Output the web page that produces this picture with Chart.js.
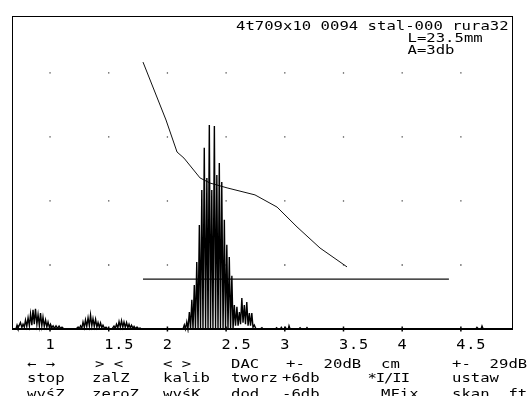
<!DOCTYPE html>
<html lang="en">
  <head>
    <meta charset="UTF-8" />
    <title>A-scan</title>
    <script src="https://cdn.jsdelivr.net/npm/chart.js@4.4.0/dist/chart.umd.min.js"></script>
    <style>
      body { margin: 0; background: #fff; overflow: hidden; }
      #wrap { width: 531px; height: 396px; }
    </style>
  </head>
  <body>
    <div id="wrap"><canvas id="scan" width="531" height="396"></canvas></div>
    <script>
    // depth axis (cm) and tick labels
    const xTicks = [1, 1.5, 2, 2.5, 3, 3.5, 4, 4.5];
    const xTickLabels = ['1', '1.5', '2', '2.5', '3', '3.5', '4', '4.5'];
    const gridRows = [20, 40, 60, 80];

    // rectified echo trace [depth, amplitude %]
    const echoTrace = [
      [0.676,0],[0.710,0],[0.719,1.2],[0.727,0.3],[0.748,2.0],[0.760,0.5],[0.770,1.5],[0.781,0.6],
      [0.791,2.8],[0.802,0.8],[0.813,3.5],[0.824,1.0],[0.834,4.7],[0.845,1.2],[0.855,6.0],[0.866,1.5],
      [0.876,6.3],[0.888,1.5],[0.898,4.5],[0.909,1.0],[0.919,5.0],[0.930,1.0],[0.940,3.7],[0.951,0.8],
      [0.962,2.8],[0.973,0.6],[0.983,2.2],[0.994,0.5],[1.004,1.5],[1.015,0.4],[1.026,1.0],[1.038,0.2],
      [1.051,1.0],[1.064,0.2],[1.077,0.9],[1.089,0.2],[1.102,0.6],[1.119,0],
      [1.221,0],[1.239,0.6],[1.250,0.1],[1.260,1.0],[1.271,0.3],[1.281,2.2],[1.292,0.5],[1.302,2.8],
      [1.313,0.8],[1.324,3.5],[1.335,1.0],[1.345,4.4],[1.356,1.0],[1.366,3.2],[1.377,0.8],[1.388,3.0],
      [1.399,0.6],[1.409,2.0],[1.420,0.5],[1.430,1.9],[1.441,0.4],[1.451,1.2],[1.464,0.2],[1.477,0.6],[1.494,0],
      [1.528,0],[1.545,0.9],[1.556,0.2],[1.566,1.5],[1.578,0.4],[1.588,2.3],[1.599,0.6],[1.609,2.6],
      [1.620,0.6],[1.630,2.2],[1.641,0.5],[1.652,2.0],[1.663,0.4],[1.673,1.5],[1.684,0.3],[1.694,1.2],
      [1.707,0.2],[1.716,0.8],[1.728,0.1],[1.741,0.6],[1.754,0.1],[1.767,0.3],[1.779,0],
      [2.133,0],[2.144,1.25],[2.154,0],[2.165,2.2],[2.175,0],[2.187,5.3],[2.197,0],[2.208,9.1],
      [2.218,0],[2.229,13.75],[2.239,0],[2.250,20.9],[2.261,0],[2.272,32.5],[2.282,0],[2.293,43.4],
      [2.303,0],[2.314,56.6],[2.325,0],[2.336,47.2],[2.346,0],[2.357,63.75],[2.367,0],[2.378,43.4],
      [2.388,0],[2.400,63.4],[2.410,0],[2.421,48.1],[2.431,0],[2.442,51.9],[2.452,0],[2.463,45.9],
      [2.474,0],[2.485,34.1],[2.495,0],[2.506,26.3],[2.516,0],[2.527,22.5],[2.538,0],[2.549,16.6],
      [2.559,0],[2.570,7.5],[2.580,1.0],[2.592,6.9],[2.602,1.0],[2.613,5.3],[2.623,1.5],[2.634,9.7],
      [2.644,2.0],[2.655,7.5],[2.665,1.5],[2.676,8.4],[2.687,1.0],[2.698,5.0],[2.708,1.0],[2.719,5.0],
      [2.729,0.5],[2.740,1.25],[2.755,0],
      [2.790,0],[2.805,0.4],[2.815,0],[2.920,0],[2.930,0.4],[2.940,0],[2.962,0],[2.970,0.5],[2.979,0],
      [2.996,0],[3.004,0.5],[3.014,0],[3.030,0],[3.036,1.0],[3.045,0],[3.120,0],[3.130,0.4],[3.140,0],
      [3.180,0],[3.189,0.4],[3.198,0],[4.628,0],[4.637,0.5],[4.650,0],[4.672,0],[4.680,0.9],[4.690,0],[4.944,0]
    ];

    // DAC curve
    const dacX = [1.792, 1.988, 2.082, 2.141, 2.278, 2.363, 2.508, 2.746, 2.934, 3.104, 3.300, 3.530];
    const dacY = [83.4, 65.3, 55.3, 53.4, 47.2, 45.6, 44.1, 41.9, 38.1, 31.9, 25.3, 19.4];

    // gate
    const gateX = [1.792, 4.398];
    const gateY = [15.6, 15.6];

    const headerLines = ['4t709x10 0094 stal-000 rura32', 'L=23.5mm', 'A=3db'];
    const menuRow1 = ['← →', '> <', '< >', 'DAC', '+-  20dB', 'cm', '+-  29dB'];
    const menuRow2 = ['stop', 'zalZ', 'kalib', 'tworz', '+6db', '*I/II', 'ustaw'];
    const menuRow3 = ['wyśZ', 'zeroZ', 'wyśK', 'dod', '-6db', 'MFix', 'skan  ft.'];

    function monoText(ctx, str, x, y, pitch, size, sx) {
      ctx.save();
      ctx.font = size + 'px "DejaVu Sans Mono"';
      ctx.fillStyle = '#000';
      ctx.textAlign = 'center';
      ctx.textBaseline = 'alphabetic';
      Array.from(str).forEach((ch, i) => {
        if (ch === ' ') return;
        ctx.save();
        ctx.translate(x + pitch * (i + 0.5), y);
        ctx.scale(sx, 1);
        ctx.fillText(ch, 0, 0);
        ctx.restore();
      });
      ctx.restore();
    }

    const screenPlugin = {
      id: 'screen',
      afterDraw(chart) {
        const ctx = chart.ctx;
        const a = chart.chartArea;
        const xs = chart.scales.x;
        ctx.save();
        ctx.strokeStyle = '#000';
        ctx.lineWidth = 1;
        ctx.strokeRect(a.left + 0.5, a.top + 0.5, a.right - a.left - 1, a.bottom - a.top);
        ctx.lineWidth = 2;
        ctx.beginPath();
        ctx.moveTo(a.left, a.bottom);
        ctx.lineTo(a.right, a.bottom);
        ctx.stroke();
        ctx.restore();

        // header
        monoText(ctx, headerLines[0], 236, 30, 9.4, 12, 1.3);
        monoText(ctx, headerLines[1], 407.5, 42, 9.4, 12, 1.3);
        monoText(ctx, headerLines[2], 407.5, 53.5, 9.4, 12, 1.3);

        // tick labels
        xTickLabels.forEach((t, i) => {
          const px = xs.getPixelForValue(xTicks[i]);
          monoText(ctx, t, px - 5, 349, 10, 14.5, 1.05);
        });

        // soft-key menu
        const cols1 = [27, 95, 163, 231, 286, 381, 452];
        const cols2 = [27, 92, 163, 231, 282, 368, 452];
        const cols3 = [27, 92, 163, 231, 282, 381, 452];
        menuRow1.forEach((s, i) => monoText(ctx, s, cols1[i], 368, 9.4, 12, 1.3));
        menuRow2.forEach((s, i) => monoText(ctx, s, cols2[i], 381.5, i === 5 ? 8.3 : 9.4, 12, 1.3));
        menuRow3.forEach((s, i) => monoText(ctx, s, cols3[i], 398, 9.4, 12, 1.3));
      }
    };

    const gridDots = [];
    xTicks.forEach(x => gridRows.forEach(y => gridDots.push({ x, y })));

    new Chart(document.getElementById('scan').getContext('2d'), {
      type: 'line',
      data: {
        datasets: [
          {
            data: echoTrace.map(p => ({ x: p[0], y: p[1] })),
            borderColor: '#000',
            borderWidth: 1.4,
            pointRadius: 0,
            tension: 0,
            clip: 4
          },
          {
            data: dacX.map((x, i) => ({ x, y: dacY[i] })),
            borderColor: '#111',
            borderWidth: 1,
            pointRadius: 0,
            tension: 0
          },
          {
            data: gateX.map((x, i) => ({ x, y: gateY[i] })),
            borderColor: '#111',
            borderWidth: 1.2,
            pointRadius: 0
          },
          {
            type: 'scatter',
            data: gridDots,
            pointStyle: 'rect',
            pointRadius: 0.9,
            backgroundColor: '#444',
            borderWidth: 0
          },
          {
            type: 'scatter',
            data: xTicks.map(x => ({ x, y: 0 })),
            pointStyle: 'line',
            rotation: 90,
            pointRadius: 2.5,
            borderColor: '#000',
            borderWidth: 1.5,
            clip: 6
          }
        ]
      },
      options: {
        responsive: false,
        animation: false,
        layout: { padding: { left: 12, top: 16, right: 18, bottom: 67 } },
        plugins: { legend: { display: false }, tooltip: { enabled: false } },
        scales: {
          x: { type: 'linear', min: 0.676, max: 4.944, display: false },
          y: { min: 0, max: 97.8, display: false }
        }
      },
      plugins: [screenPlugin]
    });
    </script>
  </body>
</html>
